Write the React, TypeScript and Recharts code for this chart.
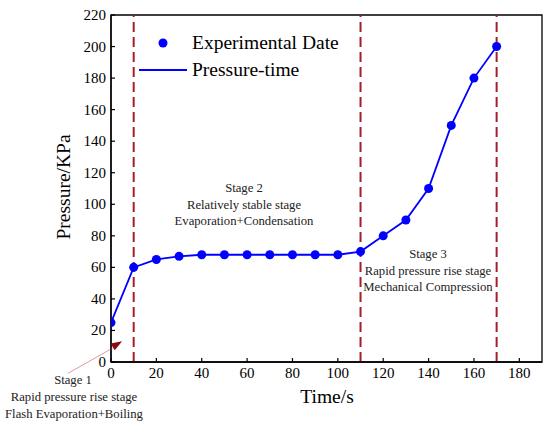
import React from 'react';
import { LineChart, Line, XAxis, YAxis, ReferenceLine, ReferenceArea, ReferenceDot } from 'recharts';

const times = [0, 10, 20, 30, 40, 50, 60, 70, 80, 90, 100, 110, 120, 130, 140, 150, 160, 170];
const pressures = [25, 60, 65, 67, 68, 68, 68, 68, 68, 68, 68, 70, 80, 90, 110, 150, 180, 200];
const xTicks = [0, 20, 40, 60, 80, 100, 120, 140, 160, 180];
const yTicks = [0, 20, 40, 60, 80, 100, 120, 140, 160, 180, 200, 220];
const stageBoundaries = [10, 110, 170];
const arrowStart = { x: -19, y: -7.2 };
const arrowBase = { x: 2.2, y: 10 };
const arrowTip = { x: 4.9, y: 13.2 };

const data = times.map((t, i) => ({ t, p: pressures[i] }));

const FONT = "'Liberation Serif', 'DejaVu Serif', serif";
const DASH = '#a3202a';
const serif = { fontFamily: FONT };

const XTick = (props: any) => {
  const { x, y, payload } = props;
  return (
    <g>
      <line x1={x} y1={y} x2={x} y2={y - 4} stroke="#000" strokeWidth={1.2} />
      <text x={x} y={y + 16} textAnchor="middle" style={{ ...serif, fontSize: 15 }} fill="#000">
        {payload.value}
      </text>
    </g>
  );
};

const YTick = (props: any) => {
  const { x, y, payload } = props;
  return (
    <g>
      <line x1={x} y1={y} x2={x + 4} y2={y} stroke="#000" strokeWidth={1.2} />
      <text x={x - 5} y={y + 5} textAnchor="end" style={{ ...serif, fontSize: 15 }} fill="#000">
        {payload.value}
      </text>
    </g>
  );
};

const ArrowHead = (props: any) => {
  const { cx, cy } = props;
  if (cx == null || cy == null) return null;
  return (
    <polygon
      points="0,0 -11,-4 -11,4"
      transform={`translate(${cx},${cy}) rotate(-31)`}
      fill="#8b0a0a"
    />
  );
};

export default function App() {
  return (
    <div style={{ position: 'absolute', left: 0, top: 0, width: 550, height: 429, background: '#fff', ...serif }}>
      <LineChart
        width={550}
        height={429}
        data={data}
        margin={{ top: 15, right: 8, bottom: 37, left: 61 }}
        style={serif}
      >
        <XAxis
          dataKey="t"
          type="number"
          domain={[0, 190]}
          ticks={xTicks}
          tickSize={0}
          tickMargin={0}
          tickLine={false}
          tick={<XTick />}
          axisLine={{ stroke: '#000', strokeWidth: 1.3 }}
          height={30}
          allowDataOverflow
        />
        <YAxis
          type="number"
          domain={[0, 220]}
          ticks={yTicks}
          tickSize={0}
          tickMargin={0}
          tickLine={false}
          tick={<YTick />}
          axisLine={{ stroke: '#000', strokeWidth: 1.3 }}
          width={50}
          allowDataOverflow
        />
        <ReferenceArea x1={0} x2={190} y1={0} y2={220} fill="none" stroke="#000" strokeWidth={1.3} ifOverflow="visible" />
        {stageBoundaries.map((b) => (
          <ReferenceLine key={b} x={b} stroke={DASH} strokeWidth={2} strokeDasharray="10 5" />
        ))}
        <ReferenceLine
          segment={[arrowStart, arrowBase]}
          stroke="#e29a9a"
          strokeWidth={1}
          ifOverflow="visible"
        />
        <ReferenceDot x={arrowTip.x} y={arrowTip.y} ifOverflow="visible" shape={<ArrowHead />} />
        <Line
          dataKey="p"
          type="linear"
          stroke="#0000ff"
          strokeWidth={1.8}
          dot={{ r: 4.5, fill: '#0000ff', stroke: '#0000ff', strokeWidth: 0 }}
          activeDot={false}
          isAnimationActive={false}
        />
      </LineChart>
      <svg
        width={550}
        height={429}
        style={{ position: 'absolute', left: 0, top: 0, pointerEvents: 'none', ...serif }}
      >
        {/* legend */}
        <circle cx={163} cy={43} r={4.5} fill="#0000ff" />
        <text x={192} y={49} style={{ ...serif, fontSize: 19.5 }} fill="#000">Experimental Date</text>
        <line x1={139} y1={70} x2={187} y2={70} stroke="#0000ff" strokeWidth={1.8} />
        <text x={192} y={76} style={{ ...serif, fontSize: 19.5 }} fill="#000">Pressure-time</text>
        {/* axis titles */}
        <text x={327} y={403} style={{ ...serif, fontSize: 19.5 }} textAnchor="middle" fill="#000">Time/s</text>
        <text
          x={0}
          y={0}
          style={{ ...serif, fontSize: 19.5 }}
          textAnchor="middle"
          fill="#000"
          transform="translate(70,187) rotate(-90)"
        >
          Pressure/KPa
        </text>
        {/* stage 2 */}
        <g style={{ ...serif, fontSize: 12.7 }} textAnchor="middle" fill="#222">
          <text x={244} y={192}>Stage 2</text>
          <text x={244} y={209}>Relatively stable stage</text>
          <text x={244} y={225}>Evaporation+Condensation</text>
        </g>
        {/* stage 3 */}
        <g style={{ ...serif, fontSize: 12.7 }} textAnchor="middle" fill="#222">
          <text x={428} y={258}>Stage 3</text>
          <text x={428} y={275}>Rapid pressure rise stage</text>
          <text x={428} y={291}>Mechanical Compression</text>
        </g>
        {/* stage 1 */}
        <g style={{ ...serif, fontSize: 12.7 }} textAnchor="middle" fill="#222">
          <text x={73} y={384}>Stage 1</text>
          <text x={74} y={401}>Rapid pressure rise stage</text>
          <text x={74} y={418}>Flash Evaporation+Boiling</text>
        </g>
      </svg>
    </div>
  );
}
